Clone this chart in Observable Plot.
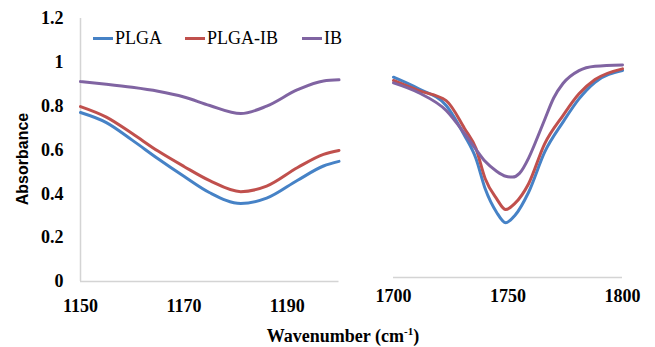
<!DOCTYPE html>
<html>
<head>
<meta charset="utf-8">
<script src="https://cdn.jsdelivr.net/npm/d3@7"></script>
<script src="https://cdn.jsdelivr.net/npm/@observablehq/plot@0.6"></script>
<style>
  html, body { margin: 0; padding: 0; background: #fff; }
  #wrap { position: relative; width: 655px; height: 347px; overflow: hidden; background: #fff; }
  #left, #right { position: absolute; top: 0; }
  #left { left: 0; }
  #right { left: 345px; }
  .leg { position: absolute; top: 28px; font-family: "Liberation Serif", "Times New Roman", serif; font-size: 18px; color: #000; display: flex; align-items: center; white-space: nowrap; line-height: 20px; }
  .sw { display: inline-block; width: 20px; height: 3px; margin-right: 2px; }
  #ylab { position: absolute; left: 23px; top: 159px; transform: translate(-50%, -50%) rotate(-90deg); font-family: "Liberation Sans", Arial, sans-serif; font-weight: bold; font-size: 16px; white-space: nowrap; }
  #xlab { position: absolute; left: 343px; top: 336px; transform: translate(-50%, -50%); font-family: "Liberation Serif", "Times New Roman", serif; font-weight: bold; font-size: 18px; line-height: 18px; white-space: nowrap; }
  #xlab sup { font-size: 11px; vertical-align: 7px; line-height: 0; }
</style>
</head>
<body>
<div id="wrap">
  <div id="left"></div>
  <div id="right"></div>
  <div id="ylab">Absorbance</div>
  <div id="xlab">Wavenumber (cm<sup>-1</sup>)</div>
</div>
<script>
// ---- data ----
const seriesNames = ["PLGA", "PLGA-IB", "IB"];
const seriesColors = ["#4682c6", "#c0504d", "#8064a2"];
const yTicks = [0, 0.2, 0.4, 0.6, 0.8, 1, 1.2];
const leftTicks = [1150, 1170, 1190];
const rightTicks = [1700, 1750, 1800];

const leftWavenumber = [1150, 1155, 1160, 1165, 1170, 1175, 1181, 1186, 1192, 1197, 1200];
const leftPLGA   = [0.771, 0.725, 0.645, 0.560, 0.480, 0.405, 0.356, 0.380, 0.462, 0.527, 0.548];
const leftPLGAIB = [0.798, 0.750, 0.675, 0.595, 0.525, 0.460, 0.410, 0.435, 0.520, 0.580, 0.598];
const leftIB     = [0.912, 0.900, 0.886, 0.868, 0.842, 0.803, 0.766, 0.800, 0.875, 0.915, 0.920];

const rightWavenumber = [1700, 1711, 1723, 1731, 1736, 1740, 1745, 1749, 1753, 1759, 1766, 1774, 1781, 1788, 1800];
const rightPLGA   = [0.914, 0.861, 0.785, 0.648, 0.543, 0.406, 0.298, 0.250, 0.283, 0.389, 0.572, 0.709, 0.815, 0.891, 0.944];
const rightPLGAIB = [0.899, 0.853, 0.807, 0.680, 0.589, 0.452, 0.360, 0.310, 0.338, 0.428, 0.610, 0.739, 0.838, 0.903, 0.952];
const rightIBWavenumber = [1700, 1711, 1723, 1731, 1736, 1740, 1745, 1749, 1752, 1755, 1759, 1762, 1766, 1770, 1774, 1781, 1788, 1800];
const rightIB = [0.888, 0.843, 0.762, 0.657, 0.585, 0.530, 0.485, 0.462, 0.458, 0.475, 0.545, 0.617, 0.720, 0.820, 0.885, 0.944, 0.964, 0.970];

// ---- build rows ----
function rows(xs, ys, name) { return xs.map((x, i) => ({ x, y: ys[i], series: name })); }
const leftData = [
  ...rows(leftWavenumber, leftPLGA, "PLGA"),
  ...rows(leftWavenumber, leftPLGAIB, "PLGA-IB"),
  ...rows(leftWavenumber, leftIB, "IB")
];
const rightData = [
  ...rows(rightWavenumber, rightPLGA, "PLGA"),
  ...rows(rightWavenumber, rightPLGAIB, "PLGA-IB"),
  ...rows(rightIBWavenumber, rightIB, "IB")
];

const fmt = d => String(+d.toFixed(1));
const baseStyle = {
  fontFamily: "'Liberation Serif', 'Times New Roman', serif",
  fontSize: "18px",
  fontWeight: "bold",
  background: "transparent",
  overflow: "visible",
  color: "#000"
};
const color = { domain: seriesNames, range: seriesColors };

const left = Plot.plot({
  width: 345, height: 320,
  marginLeft: 80, marginRight: 6.5, marginTop: 18, marginBottom: 39,
  x: { domain: [1150, 1200] },
  y: { domain: [0, 1.2] },
  color,
  style: baseStyle,
  marks: [
    Plot.ruleX([1150], { stroke: "#d4d4d4", strokeWidth: 1.5 }),
    Plot.ruleY([0], { stroke: "#d4d4d4", strokeWidth: 1.5 }),
    Plot.axisY({ ticks: yTicks, tickSize: 0, tickPadding: 17, tickFormat: fmt, label: null }),
    Plot.axisX({ ticks: leftTicks, tickSize: 0, tickPadding: 18, tickFormat: d => String(d), label: null }),
    Plot.line(leftData, { x: "x", y: "y", z: "series", stroke: "series", strokeWidth: 3, curve: "monotone-x" })
  ]
});
document.getElementById("left").appendChild(left);

const right = Plot.plot({
  width: 310, height: 320,
  marginLeft: 48, marginRight: 33, marginTop: 14, marginBottom: 43,
  x: { domain: [1700, 1800] },
  y: { domain: [0, 1.2], axis: null },
  color,
  style: baseStyle,
  marks: [
    Plot.ruleY([0], { stroke: "#d4d4d4", strokeWidth: 1.5 }),
    Plot.axisX({ ticks: rightTicks, tickSize: 0, tickPadding: 12, tickFormat: d => String(d), label: null }),
    Plot.line(rightData, { x: "x", y: "y", z: "series", stroke: "series", strokeWidth: 3, curve: "monotone-x" })
  ]
});
document.getElementById("right").appendChild(right);

// ---- legend ----
const legendX = [93, 185, 302];
const wrap = document.getElementById("wrap");
seriesNames.forEach((name, i) => {
  const item = document.createElement("div");
  item.className = "leg";
  item.style.left = legendX[i] + "px";
  const sw = document.createElement("span");
  sw.className = "sw";
  sw.style.background = seriesColors[i];
  item.appendChild(sw);
  item.appendChild(document.createTextNode(name));
  wrap.appendChild(item);
});
</script>
</body>
</html>
